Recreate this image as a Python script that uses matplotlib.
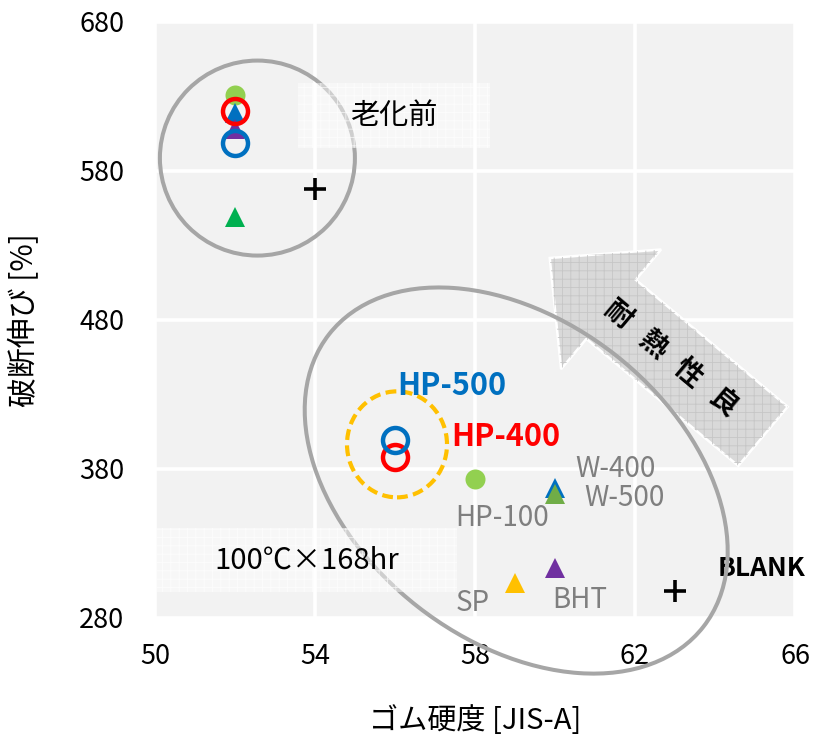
import matplotlib
matplotlib.use('Agg')
import numpy as np
import matplotlib.pyplot as plt
import matplotlib.patches as mpatches
import matplotlib.transforms as mtransforms

plt.rcParams['font.family'] = ['Noto Sans CJK JP', 'DejaVu Sans']
plt.rcParams['hatch.linewidth'] = 0.6

# 試料 (描画順)
samples = ['HP-100', 'W-400', 'W-500', 'BHT', 'SP', 'BLANK', 'HP-400', 'HP-500']
# 老化前  ゴム硬度 / 破断伸び
hardness_before = [52, 52, 52, 52, np.nan, 54, 52, 52]
elong_before = [631, 619, 549, 608, np.nan, 568, 620, 599]
# 100℃×168hr 老化後
hardness_after = [58, 60, 60, 60, 59, 63, 56, 56]
elong_after = [373, 367, 363, 313, 303, 298, 388, 399]

colors = ['#92d050', '#0070c0', '#70ad47', '#7030a0', '#ffc000', 'black', '#ff0000', '#0070c0']
colors_before = ['#92d050', '#0070c0', '#00b050', '#7030a0', '#ffc000', 'black', '#ff0000', '#0070c0']
markers = ['o', '^', '^', '^', '^', '+', 'o', 'o']

fig = plt.figure(figsize=(8.13, 7.4), dpi=100)
ax = fig.add_axes([155 / 813, (740 - 617.5) / 740, 640 / 813, 595.5 / 740])
ax.set_xlim(50, 66)
ax.set_ylim(280, 680)
ax.set_xticks([50, 54, 58, 62, 66])
ax.set_yticks([280, 380, 480, 580, 680])
ax.set_facecolor('#f2f2f2')
ax.grid(color='white', lw=2.6)
ax.set_axisbelow(True)
for s in ax.spines.values():
    s.set_visible(False)
ax.tick_params(length=0, labelsize=19.5)
ax.tick_params(axis='y', pad=22)
ax.tick_params(axis='x', pad=18)
ax.set_xlabel('ゴム硬度 [JIS-A]', fontsize=21)
ax.set_ylabel('破断伸び [%]', fontsize=21.5)
ax.xaxis.set_label_coords(0.5, -0.148)
ax.yaxis.set_label_coords(-0.18, 0.5)


def anchored(x, y):
    # インチ単位でデータ座標 (x, y) を原点にする変換
    return fig.dpi_scale_trans + mtransforms.ScaledTranslation(x, y, ax.transData)


def ring(x, y, w, h, angle=0, **kw):
    e = mpatches.Ellipse((0, 0), w, h, angle=angle, transform=anchored(x, y),
                         fill=False, clip_on=False, **kw)
    ax.add_patch(e)


# 耐熱性良 の矢印
ang = np.deg2rad(140.1)
L = 2.78
arrow_tr = anchored(65.2, 401.7)
arrow_kw = dict(width=0.77, head_width=1.56, head_length=0.8, length_includes_head=True,
                transform=arrow_tr, clip_on=False)
ax.add_patch(mpatches.FancyArrow(0, 0, L * np.cos(ang), L * np.sin(ang), facecolor='#d9d9d9',
                                 edgecolor='white', lw=1.8, zorder=1, **arrow_kw))
ax.add_patch(mpatches.FancyArrow(0, 0, L * np.cos(ang), L * np.sin(ang), fill=False, hatch='++',
                                 edgecolor='#c6c6c6', lw=0, zorder=1.1, **arrow_kw))
for k, ch in enumerate('良性熱耐'):
    d = 0.53 + 0.453 * k
    ax.text(d * np.cos(ang), d * np.sin(ang), ch, transform=arrow_tr,
            rotation=-40, rotation_mode='anchor', ha='center', va='center',
            fontsize=20, fontweight='bold', zorder=1.2)

# 囲み
ring(52.56, 588.6, 1.95, 1.95, edgecolor='#a6a6a6', lw=2.9, zorder=2)
ring(59.03, 372.0, 4.75, 3.2, angle=-38, edgecolor='#a6a6a6', lw=2.9, zorder=2)
ring(56.05, 396.3, 1.0, 1.06, edgecolor='#ffc000', lw=3.0,
     linestyle=(0, (2.6, 1.3)), zorder=2)

# 条件ラベル
for (x0, y0, w, h), label in [((53.58, 595.3, 4.8, 43.7), '老化前'),
                              ((50.05, 296.8, 7.5, 43.0), '100℃×168hr')]:
    ax.add_patch(mpatches.Rectangle((x0, y0), w, h, facecolor=(1, 1, 1, 0.45),
                                    edgecolor=(1, 1, 1, 0.7), hatch='++', lw=0, zorder=3))
    ax.text(x0 + w / 2, y0 + h / 2, label, ha='center', va='center', fontsize=21, zorder=5)

# データ点
for i, name in enumerate(samples):
    for hx, ey, col in [(hardness_before, elong_before, colors_before),
                        (hardness_after, elong_after, colors)]:
        m = markers[i]
        if name in ('HP-400', 'HP-500'):
            ax.plot(hx[i], ey[i], m, ms=18, mfc='none', mec=col[i], mew=3.2, zorder=4)
        elif m == '+':
            ax.plot(hx[i], ey[i], m, ms=16, mec=col[i], mew=2.6, zorder=4)
        else:
            ax.plot(hx[i], ey[i], m, ms=14.4, color=col[i], mew=0, zorder=4)

# 試料名ラベル (老化後の点からのオフセット, pt)
label_offsets = {'HP-500': (41, 39), 'HP-400': (80, 14.4), 'HP-100': (19.4, -28),
                 'W-400': (43.2, 14), 'W-500': (49.7, -3), 'BHT': (18, -23),
                 'SP': (-30.2, -14.4), 'BLANK': (62.6, 15.8)}
label_style = {'HP-500': dict(color='#0070c0', fontsize=22, fontweight='bold', zorder=5),
               'HP-400': dict(color='#ff0000', fontsize=22, fontweight='bold', zorder=5),
               'BLANK': dict(color='black', fontsize=19, fontweight='bold', zorder=1.5)}
for i, name in enumerate(samples):
    style = label_style.get(name, dict(color='#7f7f7f', fontsize=20, zorder=5))
    ax.annotate(name, (hardness_after[i], elong_after[i]), xytext=label_offsets[name],
                textcoords='offset points', ha='center', va='center', **style)

fig.savefig('out.png', dpi=100)
